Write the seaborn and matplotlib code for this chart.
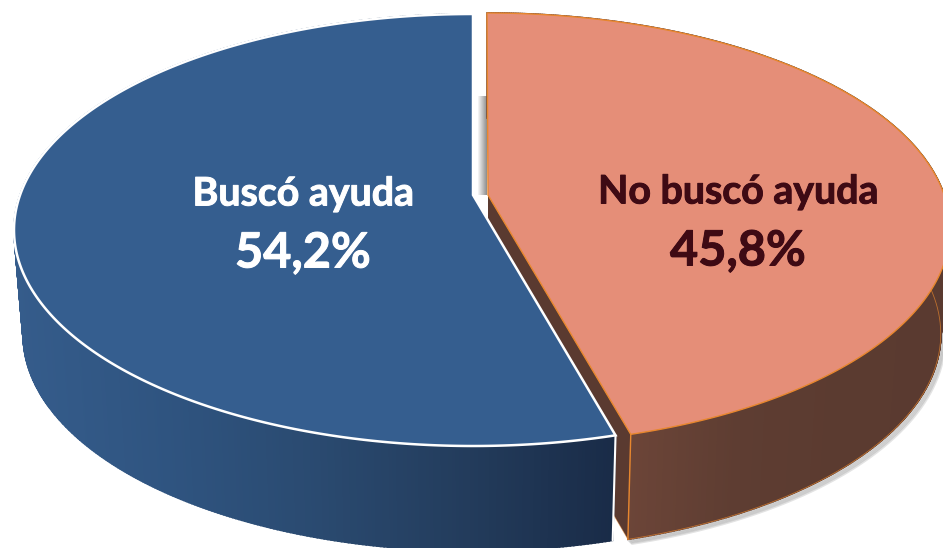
import matplotlib

matplotlib.use("Agg")

import numpy as np
import matplotlib.pyplot as plt
import matplotlib.patheffects as pe
import seaborn as sns

categories = ["Buscó ayuda", "No buscó ayuda"]
values = [54.2, 45.8]

top_colors = ["#355e8f", "#e58e78"]
edge_colors = ["#ffffff", "#e8872e"]
text_colors = ["#ffffff", "#3e0a14"]
wall_ramps = [
    ["#355c8b", "#2f5480", "#2a4a70", "#233c5c", "#192b47"],
    ["#6c4538", "#5e3d32", "#5b3b30", "#5a3a30"],
]

# geometry of the tilted disc, one entry per slice
centers_x = [473, 487]
centers_y = [230, 229]
radius_x = [459, 463]
radius_y = [216, 216]
tilt = -0.18
apex_y = 195
depth = 105
shrink = 0.98

sns.set_theme(style="white")
plt.rcParams["font.family"] = ["Lato", "DejaVu Sans"]


def rim(angle, i, bottom=False):
    # disc automorphism, so the slice apex sits above the ellipse centre
    c = -np.cos(angle)
    s = np.sin(angle)
    d = 1 + tilt * c
    u = s * np.sqrt(1 - tilt**2) / d
    v = (c + tilt) / d
    if bottom:
        return centers_x[i] + shrink * radius_x[i] * u, centers_y[i] + depth + radius_y[i] * v
    return centers_x[i] + radius_x[i] * u, centers_y[i] + radius_y[i] * v


def draw_wall(ax, angles, i, z):
    ramp = sns.blend_palette(wall_ramps[i], 256)
    x_top, y_top = rim(angles, i)
    x_bot, y_bot = rim(angles, i, bottom=True)
    lo, hi = x_top.min(), x_top.max()
    if i == 1:
        lo = x_top[np.argmax(y_top)]
    for k in range(len(angles) - 1):
        pos = np.clip((x_top[k] - lo) / (hi - lo), 0, 1)
        col = ramp[int(pos * 255)]
        ax.fill(
            [x_top[k], x_top[k + 1], x_bot[k + 1], x_bot[k]],
            [y_top[k], y_top[k + 1], y_bot[k + 1], y_bot[k]],
            color=col,
            lw=1.2,
            zorder=z,
        )


fig, ax = plt.subplots(figsize=(9.43, 5.48), dpi=100)
fig.subplots_adjust(0, 0, 1, 1)
ax.set_xlim(0, 943)
ax.set_ylim(548, 0)
ax.axis("off")

sweep_blue = 2 * np.pi * values[0] / sum(values)
sweep_salmon = 2 * np.pi * values[1] / sum(values)
angles_blue = np.linspace(0, -sweep_blue, 500)
angles_salmon = np.linspace(0, sweep_salmon, 500)

apex_blue = (centers_x[0], apex_y)
apex_salmon = (centers_x[1] + 1, apex_y)

# soft shadow in the gap and below the salmon slice
for off in range(1, 10):
    ax.fill_between(
        [apex_salmon[0] - off - 1, apex_salmon[0] - off],
        apex_salmon[1] - 99,
        apex_salmon[1],
        color="#707070",
        alpha=0.85 * (1 - off / 10),
        lw=0,
        zorder=1,
    )
x_low, y_low = rim(angles_salmon, 1, bottom=True)
for off in [6, 4.5, 3, 1.5]:
    ax.plot(x_low + off * 0.7, y_low + off * 0.7, color="#808080", alpha=0.22, lw=2, zorder=2)

# salmon slice: inner wall, outer wall, then the top
corner = rim(angles_salmon[-1], 1)
corner_low = rim(angles_salmon[-1], 1, bottom=True)
ax.fill(
    [apex_salmon[0], corner[0], corner_low[0], apex_salmon[0]],
    [apex_salmon[1], corner[1], corner_low[1], apex_salmon[1] + depth],
    color="#5a3a30",
    lw=0,
    zorder=3,
)
draw_wall(ax, angles_salmon, 1, 3)
ax.plot(x_low, y_low, color=edge_colors[1], lw=0.6, alpha=0.7, zorder=4)
ax.plot(
    [corner[0], corner_low[0]],
    [corner[1], corner_low[1]],
    color=edge_colors[1],
    lw=1,
    zorder=4,
)
ax.plot(
    [corner_low[0], apex_salmon[0]],
    [corner_low[1], apex_salmon[1] + depth],
    color=edge_colors[1],
    lw=0.6,
    alpha=0.5,
    zorder=4,
)
x_rim, y_rim = rim(angles_salmon, 1)
ax.fill(
    np.r_[apex_salmon[0], x_rim],
    np.r_[apex_salmon[1], y_rim],
    facecolor=top_colors[1],
    edgecolor=edge_colors[1],
    lw=1,
    zorder=5,
)

# blue slice
draw_wall(ax, angles_blue, 0, 6)
corner = rim(angles_blue[-1], 0)
corner_low = rim(angles_blue[-1], 0, bottom=True)
ax.plot(
    [corner[0], corner_low[0]],
    [corner[1], corner_low[1]],
    color=edge_colors[0],
    lw=1.5,
    zorder=7,
)
x_rim, y_rim = rim(angles_blue, 0)
ax.fill(
    np.r_[apex_blue[0], x_rim],
    np.r_[apex_blue[1], y_rim],
    facecolor=top_colors[0],
    edgecolor=edge_colors[0],
    lw=1.8,
    zorder=8,
)

label_x = [303, 738]
label_y = [194, 192]
pct_y = [253, 251]
for i, name in enumerate(categories):
    stroke = [pe.withStroke(linewidth=0.7, foreground=text_colors[i])]
    ax.text(
        label_x[i], label_y[i], name, color=text_colors[i], fontsize=28.3,
        fontweight="bold", ha="center", va="center", zorder=9, path_effects=stroke,
    )
    pct = f"{values[i]:.1f}%".replace(".", ",")
    ax.text(
        label_x[i], pct_y[i], pct, color=text_colors[i], fontsize=35,
        fontweight="bold", ha="center", va="center", zorder=9, path_effects=stroke,
    )

fig.savefig("out.png", dpi=100)
